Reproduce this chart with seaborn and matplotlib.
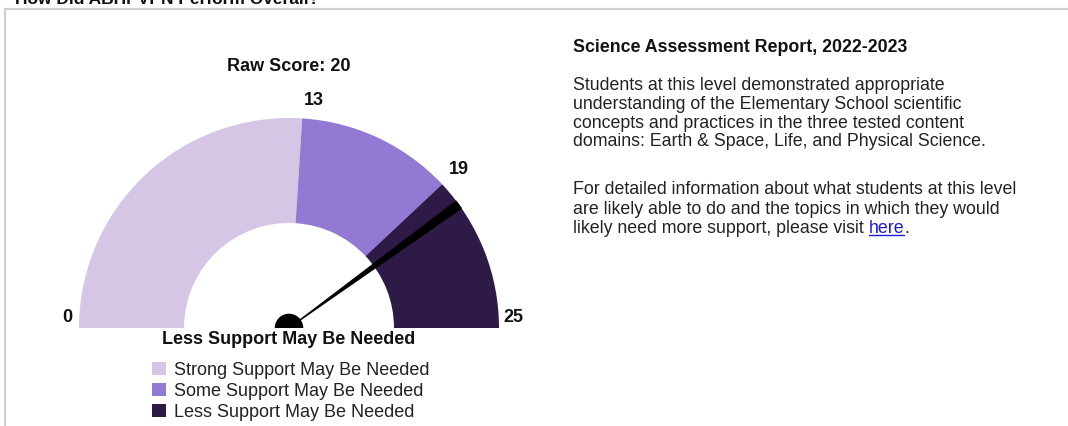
import numpy as np
import matplotlib
matplotlib.use("Agg")
import matplotlib.pyplot as plt
from matplotlib.patches import Wedge, Polygon, Patch
from matplotlib.lines import Line2D
import seaborn as sns

# data
band_labels = ["Strong Support May Be Needed", "Some Support May Be Needed", "Less Support May Be Needed"]
band_edges = [0, 13, 19, 25]
raw_score = 20
report_title = "Science Assessment Report, 2022-2023"
para_1 = ["Students at this level demonstrated appropriate",
          "understanding of the Elementary School scientific",
          "concepts and practices in the three tested content",
          "domains: Earth & Space, Life, and Physical Science."]
para_2 = ["For detailed information about what students at this level",
          "are likely able to do and the topics in which they would",
          "likely need more support, please visit "]
link_text = "here"

sns.set_theme(style="white")
plt.rcParams["font.family"] = ["Liberation Sans", "DejaVu Sans"]
colors = sns.color_palette(["#d5c6e6", "#9279d3", "#2e1a47"])

W, H = 1068, 426
fig = plt.figure(figsize=(W / 100, H / 100), dpi=100)

# gauge axes: centre at pixel (289, 328), radius 210 px
R = 210.0
cx, cy = 289.0, H - 328.0
xl, xr, yb, yt = -1.3, 1.3, -0.45, 1.5
ax = fig.add_axes([(cx + xl * R) / W, (cy + yb * R) / H, (xr - xl) * R / W, (yt - yb) * R / H])
ax.set_xlim(xl, xr)
ax.set_ylim(yb, yt)
ax.set_axis_off()

lo, hi = band_edges[0], band_edges[-1]
def ang(v):
    return 180.0 - (v - lo) / (hi - lo) * 180.0

for i in range(len(band_labels)):
    a1, a0 = ang(band_edges[i]), ang(band_edges[i + 1])
    ax.add_patch(Wedge((0, 0), 1.0, a0, a1, width=0.5, facecolor=colors[i], edgecolor="none"))

# needle
a = np.deg2rad(ang(raw_score))
da = np.deg2rad(1.25)
ax.add_patch(Polygon([(0, 0), (np.cos(a - da), np.sin(a - da)), (np.cos(a + da), np.sin(a + da))],
                     closed=True, facecolor="black", edgecolor="black", lw=0.6, zorder=3))
ax.add_patch(Wedge((0, 0), 0.068, 0, 180, facecolor="black", edgecolor="none", zorder=4))

bold = dict(fontweight="bold", fontsize=13, color="#111111")
for v in band_edges:
    t = np.deg2rad(ang(v))
    if v in (lo, hi):
        x = -1.03 if v == lo else 1.02
        ax.text(x, 0.01, str(v), ha="right" if v == lo else "left", va="bottom", **bold)
    else:
        ax.text(1.04 * np.cos(t) + 0.005, 1.045 * np.sin(t), str(v), ha="left", va="bottom", **bold)

ax.text(0, 1.245, f"Raw Score: {raw_score}", ha="center", va="center", **bold)
level = band_labels[int(np.searchsorted(band_edges, raw_score, side="right")) - 1]
ax.text(0, -0.057, level, ha="center", va="center", **bold)

handles = [Patch(facecolor=c, edgecolor="none") for c in colors]
fig.legend(handles, band_labels, loc="upper left", bbox_to_anchor=(152 / W, 1 - 362 / H),
           frameon=False, fontsize=13, handlelength=0.75, handleheight=0.75,
           handletextpad=0.45, labelspacing=0.22, borderpad=0, borderaxespad=0,
           labelcolor="#222222")

# right-hand text
fs = 12.8
fig.text(573 / W, 1 - 48 / H, report_title, fontsize=fs, fontweight="bold",
         color="#111111", va="center")
for i, line in enumerate(para_1):
    fig.text(573 / W, 1 - (86 + 18.6 * i) / H, line, fontsize=fs, color="#222222", va="center")
last = None
for i, line in enumerate(para_2):
    last = fig.text(573 / W, 1 - (190 + 19.3 * i) / H, line, fontsize=fs, color="#222222", va="center")

renderer = fig.canvas.get_renderer()
bb = last.get_window_extent(renderer)
yl = 1 - (190 + 19.3 * 2) / H
link = fig.text(bb.x1 / W, yl, link_text, fontsize=fs, color="#1a1ad6", va="center")
lb = link.get_window_extent(renderer)
fig.text(lb.x1 / W, yl, ".", fontsize=fs, color="#222222", va="center")
fig.add_artist(Line2D([lb.x0 / W, lb.x1 / W], [(lb.y0 + 2) / H] * 2, color="#1a1ad6", lw=1))

# panel frame and clipped heading (cut off at the top, as in the source page)
fig.add_artist(Line2D([5 / W, 1], [1 - 8.5 / H] * 2, color="#cfcfcf", lw=1.6))
fig.add_artist(Line2D([5 / W] * 2, [0, 1 - 8.5 / H], color="#cfcfcf", lw=1.6))
fig.text(15 / W, 1 - 4 / H, "How Did ABHPVPN Perform Overall?", fontsize=12.5,
         fontweight="bold", color="#111111", va="baseline")

fig.savefig("out.png", dpi=100, facecolor="white")
